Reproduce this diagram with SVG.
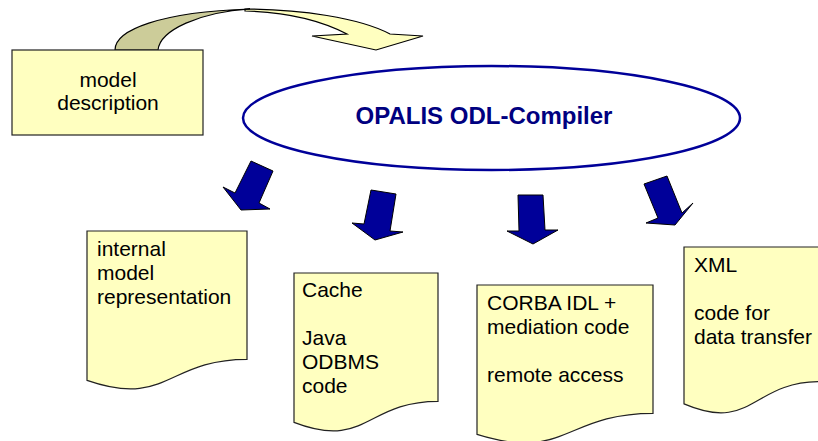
<svg xmlns="http://www.w3.org/2000/svg" width="818" height="441" viewBox="0 0 818 441">
<style>
.doc{fill:#FFFFC0;stroke:#222;stroke-width:1.2}
.t{font-family:"Liberation Sans",Arial,sans-serif;font-size:21px;fill:#000}
.ba{fill:#000099;stroke:#000;stroke-width:1;stroke-linejoin:miter}
</style>
<rect width="818" height="441" fill="#fff"/>
<g id="flow-arrow">
<path d="M245,9 C300,9 360,18 390,34 L423,36 L376,50 L312,36 L347,34 C320,20 285,12 245,11 Z" fill="#FFFFC0" stroke="#000" stroke-width="1.2" stroke-linejoin="miter"/>
<path d="M115,50 C115,30 160,12 250,9 C200,12 160,30 158,50 Z" fill="#CCCC99" stroke="#000" stroke-width="1.2"/>
</g>
<g id="model-description">
<rect x="12" y="50" width="191" height="85" fill="#FFFFC0" stroke="#222" stroke-width="1.2"/>
<text class="t" x="108" y="87" text-anchor="middle">model</text>
<text class="t" x="108" y="110" text-anchor="middle">description</text>
</g>
<g id="compiler">
<ellipse cx="491.5" cy="118" rx="248.5" ry="52" fill="#fff" stroke="#000099" stroke-width="2.5"/>
<text x="484" y="124" text-anchor="middle" font-family="Liberation Sans, Arial, sans-serif" font-size="24" font-weight="bold" fill="#000080">OPALIS ODL-Compiler</text>
</g>
<g id="connectors">
<polygon class="ba" points="251,161 273,171 259,203 270,209 241,210 223,187 235,193"/>
<polygon class="ba" points="371,190 396,194 390,231 403,232 375,240 352,223 364,224"/>
<polygon class="ba" points="518,195 543,195 545,230 558,230 533,244 507,231 519,231"/>
<polygon class="ba" points="644,184 667,176 682,213 693,203 675,225 646,223 658,218"/>
</g>
<g id="doc-internal">
<path class="doc" d="M87,231 H247 V359.3 C167,359.3 167,408.2 87,380.4 Z"/>
<text class="t" x="97" y="256">internal</text>
<text class="t" x="97" y="280">model</text>
<text class="t" x="97" y="304">representation</text>
</g>
<g id="doc-cache">
<path class="doc" d="M294,273 H438 V401.3 C366,401.3 366,450.2 294,422.4 Z"/>
<text class="t" x="302" y="297">Cache</text>
<text class="t" x="302" y="345">Java</text>
<text class="t" x="302" y="369">ODBMS</text>
<text class="t" x="302" y="393">code</text>
</g>
<g id="doc-corba">
<path class="doc" d="M477,285 H653 V413.3 C565,413.3 565,462.2 477,434.4 Z"/>
<text class="t" x="487" y="310">CORBA IDL +</text>
<text class="t" x="487" y="334">mediation code</text>
<text class="t" x="487" y="382">remote access</text>
</g>
<g id="doc-xml">
<path class="doc" d="M684,247 H820 V381.7 C752,381.7 752,433 684,403.9 Z"/>
<text class="t" x="694" y="272">XML</text>
<text class="t" x="694" y="320">code for</text>
<text class="t" x="694" y="344">data transfer</text>
</g>
</svg>
